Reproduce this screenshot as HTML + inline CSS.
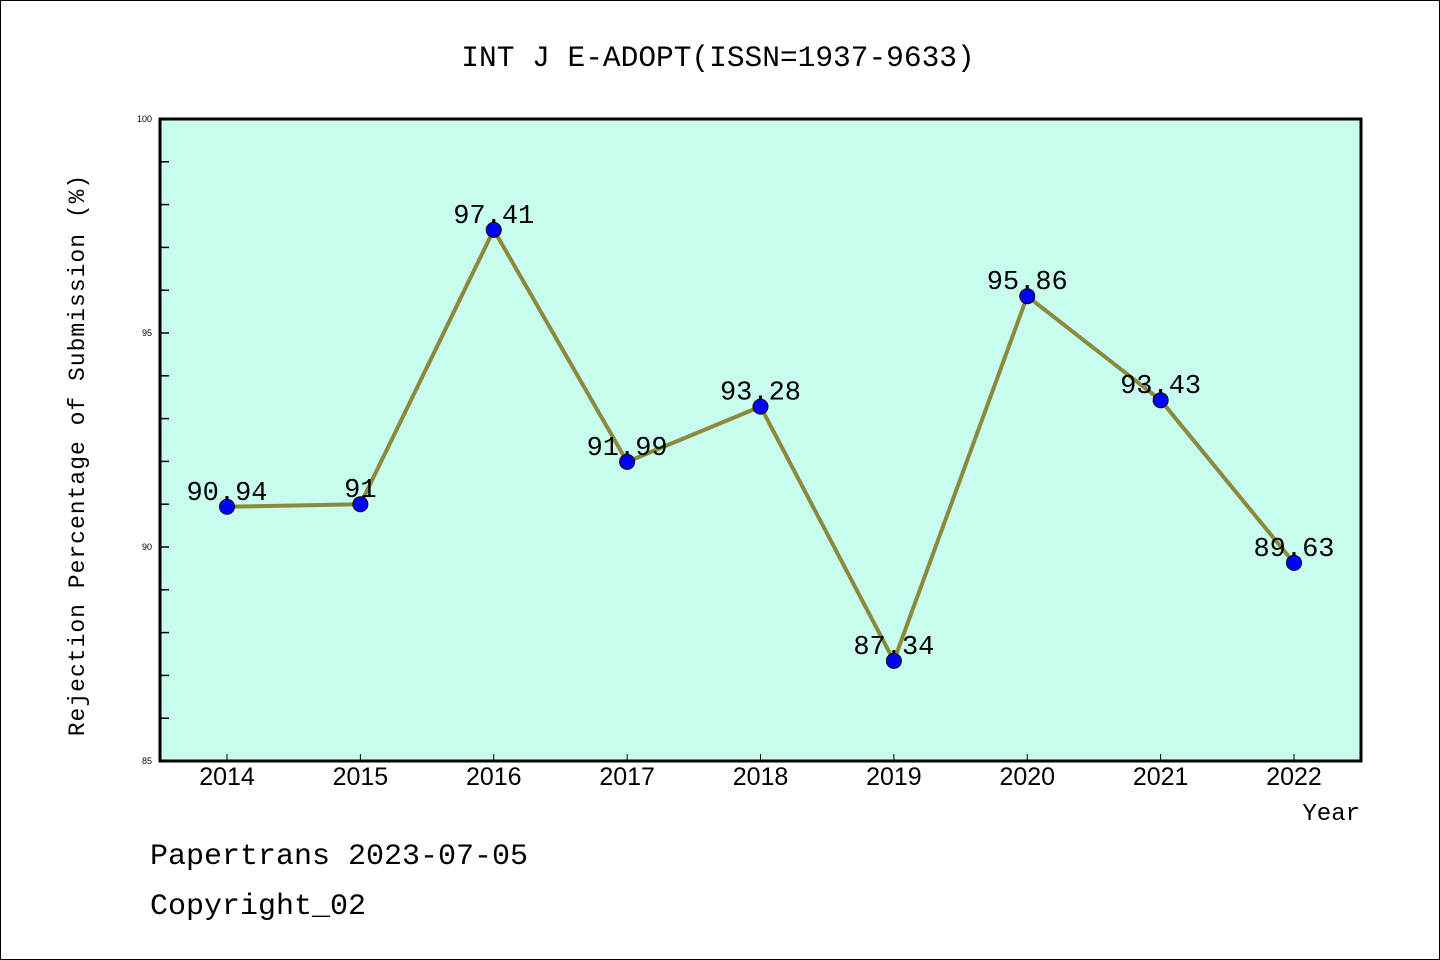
<!DOCTYPE html>
<html><head><meta charset="utf-8"><style>
html,body{margin:0;padding:0;background:#fff}
svg{display:block}
.mono{font-family:"Liberation Mono",monospace}
</style></head><body>
<svg id="chart" width="1440" height="960" xmlns="http://www.w3.org/2000/svg">
<rect x="0.5" y="0.5" width="1439" height="959" fill="#fff" stroke="#000"/>
<text x="718" y="66" font-size="29.5" text-anchor="middle" class="mono">INT J E-ADOPT(ISSN=1937-9633)</text>
<rect x="160" y="119" width="1201" height="642" fill="#c8fcee"/>
<g id="axes"></g>
<g id="marks"></g>
<rect x="160" y="119" width="1201" height="642" fill="none" stroke="#000" stroke-width="3"/>
<text transform="translate(84,455) rotate(-90)" font-size="23" text-anchor="middle" class="mono" letter-spacing="1">Rejection Percentage of Submission (%)</text>
<text x="1360" y="820" font-size="24" text-anchor="end" class="mono">Year</text>
<text x="150" y="864" font-size="30" class="mono">Papertrans 2023-07-05</text>
<text x="150" y="914" font-size="30" class="mono">Copyright_02</text>
</svg>
<script>
const years=["2014","2015","2016","2017","2018","2019","2020","2021","2022"];
const values=[90.94,91,97.41,91.99,93.28,87.34,95.86,93.43,89.63];
const labels=["90.94","91","97.41","91.99","93.28","87.34","95.86","93.43","89.63"];
const yTicks=[85,90,95,100];
const NS="http://www.w3.org/2000/svg";
const X0=160,X1=1361,Y0=761,Y1=119,ymin=85,ymax=100;
const xs=i=>227+i*(1294-227)/(years.length-1);
const ys=v=>Y0-(v-ymin)/(ymax-ymin)*(Y0-Y1);
function mk(t,a,p){const e=document.createElementNS(NS,t);for(const k in a)e.setAttribute(k,a[k]);p.appendChild(e);return e;}
const ax=document.getElementById('axes'),mg=document.getElementById('marks');
for(let v=86;v<100;v++){
 const l=mk('line',{x1:X0,x2:X0+9,y1:ys(v),y2:ys(v),stroke:'#000','stroke-width':1.5},ax);
 
 
}
yTicks.forEach(v=>{
 const t=mk('text',{x:152,y:ys(v)+3,'font-size':9,'text-anchor':'end','font-family':'Liberation Sans, sans-serif'},ax);
 t.textContent=v;
 
 
});
years.forEach((y,i)=>{
 const l=mk('line',{x1:xs(i),x2:xs(i),y1:Y0,y2:Y0-7,stroke:'#000','stroke-width':1},ax);
 
 
 const t=mk('text',{x:xs(i),y:785,'font-size':25,'text-anchor':'middle','font-family':'Liberation Sans, sans-serif'},ax);
 t.textContent=y;
 
 
});
const pl=mk('polyline',{points:values.map((v,i)=>xs(i)+','+ys(v)).join(' '),fill:'none',stroke:'#8b8a3c','stroke-width':4,'stroke-linejoin':'round'},mg);


values.forEach((v,i)=>{
 const c=mk('circle',{cx:xs(i),cy:ys(v),r:7.5,fill:'#0000ff',stroke:'#000','stroke-width':1},mg);
 
 
 const t=mk('text',{x:xs(i),y:ys(v)-7,'font-size':27,'text-anchor':'middle','class':'mono'},mg);
 t.textContent=labels[i];
 
 
});
</script>
</body></html>
